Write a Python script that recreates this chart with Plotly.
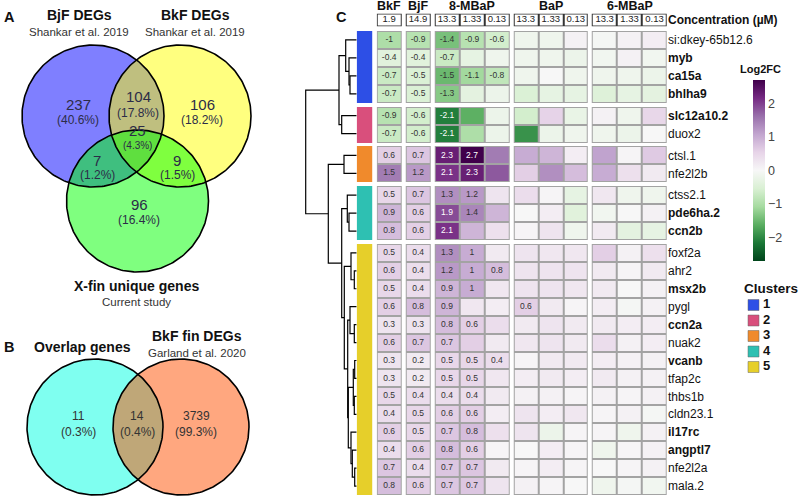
import numpy as np
import plotly.graph_objects as go

W, H = 800, 498
FONT = "Liberation Sans, Arial, Helvetica, sans-serif"

# ---------------- data ----------------
genes = ["si:dkey-65b12.6", "myb", "ca15a", "bhlha9", "slc12a10.2", "duox2",
         "ctsl.1", "nfe2l2b", "ctss2.1", "pde6ha.2", "ccn2b", "foxf2a", "ahr2",
         "msx2b", "pygl", "ccn2a", "nuak2", "vcanb", "tfap2c", "thbs1b",
         "cldn23.1", "il17rc", "angptl7", "nfe2l2a", "mala.2"]
bold_genes = ["myb", "ca15a", "bhlha9", "slc12a10.2", "pde6ha.2", "ccn2b",
              "msx2b", "ccn2a", "vcanb", "il17rc", "angptl7"]
gene_cluster = [1, 1, 1, 1, 2, 2, 3, 3, 4, 4, 4] + [5] * 14
cluster_ids = [1, 2, 3, 4, 5]
cluster_colors = ["#2d4fe6", "#d94f7c", "#f08a2c", "#2ec0b2", "#e6cf2a"]

groups = ["BkF", "BjF", "8-MBaP", "BaP", "6-MBaP"]
group_sizes = [1, 1, 3, 3, 3]
conc_labels = ["1.9", "14.9", "13.3", "1.33", "0.13", "13.3", "1.33", "0.13",
               "13.3", "1.33", "0.13"]

# columns: BkF, BjF, 8M 13.3, 8M 1.33, 8M 0.13, BaP 13.3, 1.33, 0.13, 6M 13.3, 1.33, 0.13
log2fc = [
    [-1.0, -0.9, -1.4, -0.9, -0.6, -0.15, -0.15, 0.1, -0.05, 0.1, 0.15],
    [-0.4, -0.4, -0.7, -0.3, -0.15, -0.15, -0.15, -0.2, -0.1, 0.1, -0.1],
    [-0.7, -0.5, -1.5, -1.1, -0.8, -0.15, 0.0, -0.15, -0.15, -0.15, -0.2],
    [-0.7, -0.5, -1.3, -0.35, -0.2, -0.5, -0.3, -0.3, -0.45, -0.3, -0.35],
    [-0.9, -0.6, -2.1, -1.6, -0.2, -0.6, 0.55, -0.25, 0.1, -0.15, 0.5],
    [-0.7, -0.6, -2.1, -1.0, -0.2, -1.9, -0.2, -0.15, -0.15, -0.2, 0.0],
    [0.6, 0.7, 2.3, 2.7, 1.5, 1.0, 0.9, 0.15, 1.1, 0.05, 0.65],
    [1.5, 1.2, 2.1, 2.3, 1.8, 0.6, 1.3, 0.8, 1.0, 0.35, 0.2],
    [0.5, 0.7, 1.3, 1.2, 0.3, 0.4, 0.05, -0.3, 0.25, -0.15, -0.15],
    [0.9, 0.6, 1.9, 1.4, 0.9, 0.0, 0.15, -0.4, -0.1, 0.0, 0.1],
    [0.8, 0.6, 2.1, 0.9, 0.35, 0.05, 0.3, -0.15, 0.2, -0.35, -0.3],
    [0.5, 0.4, 1.3, 1.0, 0.2, 0.3, 0.25, 0.25, 0.6, 0.1, 0.35],
    [0.6, 0.4, 1.2, 1.0, 0.8, 0.3, 0.3, 0.3, 0.2, 0.05, 0.2],
    [0.5, 0.4, 0.9, 1.0, 0.25, 0.3, 0.3, 0.25, 0.2, 0.0, 0.1],
    [0.6, 0.8, 0.9, 0.25, 0.15, 0.6, 0.2, 0.05, 0.15, -0.05, 0.1],
    [0.3, 0.3, 0.8, 0.6, 0.4, 0.2, 0.3, 0.2, 0.2, 0.15, 0.15],
    [0.6, 0.7, 0.7, 0.6, 0.2, 0.25, 0.3, 0.2, 0.4, 0.1, 0.15],
    [0.3, 0.2, 0.5, 0.5, 0.4, 0.05, 0.2, 0.2, 0.15, 0.1, 0.1],
    [0.3, 0.2, 0.5, 0.5, 0.25, 0.15, 0.2, 0.15, 0.2, 0.1, 0.1],
    [0.5, 0.4, 0.4, 0.4, 0.2, 0.1, 0.1, 0.05, 0.1, 0.05, 0.1],
    [0.4, 0.5, 0.6, 0.6, 0.15, 0.3, 0.15, 0.25, 0.05, 0.1, -0.05],
    [0.6, 0.5, 0.7, 0.8, 0.35, 0.3, -0.2, 0.05, 0.05, -0.15, 0.1],
    [0.4, 0.6, 0.8, 0.6, 0.05, 0.0, 0.15, 0.05, -0.15, 0.05, 0.1],
    [0.7, 0.4, 0.7, 0.7, 0.2, 0.05, 0.15, 0.05, 0.0, 0.05, 0.1],
    [0.8, 0.6, 0.7, 0.7, 0.3, 0.1, 0.05, 0.0, -0.15, -0.05, -0.1],
]
significant = [
    [1, 1, 1, 1, 1, 0, 0, 0, 0, 0, 0],
    [1, 1, 1, 0, 0, 0, 0, 0, 0, 0, 0],
    [1, 1, 1, 1, 1, 0, 0, 0, 0, 0, 0],
    [1, 1, 1, 0, 0, 0, 0, 0, 0, 0, 0],
    [1, 1, 1, 0, 0, 0, 0, 0, 0, 0, 0],
    [1, 1, 1, 0, 0, 0, 0, 0, 0, 0, 0],
    [1, 1, 1, 1, 0, 0, 0, 0, 0, 0, 0],
    [1, 1, 1, 1, 0, 0, 0, 0, 0, 0, 0],
    [1, 1, 1, 1, 0, 0, 0, 0, 0, 0, 0],
    [1, 1, 1, 1, 0, 0, 0, 0, 0, 0, 0],
    [1, 1, 1, 0, 0, 0, 0, 0, 0, 0, 0],
    [1, 1, 1, 1, 0, 0, 0, 0, 0, 0, 0],
    [1, 1, 1, 1, 1, 0, 0, 0, 0, 0, 0],
    [1, 1, 1, 1, 0, 0, 0, 0, 0, 0, 0],
    [1, 1, 1, 0, 0, 1, 0, 0, 0, 0, 0],
    [1, 1, 1, 1, 0, 0, 0, 0, 0, 0, 0],
    [1, 1, 1, 0, 0, 0, 0, 0, 0, 0, 0],
    [1, 1, 1, 1, 1, 0, 0, 0, 0, 0, 0],
    [1, 1, 1, 1, 0, 0, 0, 0, 0, 0, 0],
    [1, 1, 1, 1, 0, 0, 0, 0, 0, 0, 0],
    [1, 1, 1, 1, 0, 0, 0, 0, 0, 0, 0],
    [1, 1, 1, 1, 0, 0, 0, 0, 0, 0, 0],
    [1, 1, 1, 1, 0, 0, 0, 0, 0, 0, 0],
    [1, 1, 1, 1, 0, 0, 0, 0, 0, 0, 0],
    [1, 1, 1, 1, 0, 0, 0, 0, 0, 0, 0],
]

# hierarchical clustering merges: (child a, child b, height)
dendro_merges = [
    ("ca15a", "bhlha9", 6.7), ("myb", "n0", 7.7), ("si:dkey-65b12.6", "n1", 11.0),
    ("slc12a10.2", "duox2", 15.0), ("n2", "n3", 17.7),
    ("ctsl.1", "nfe2l2b", 12.7),
    ("pde6ha.2", "ccn2b", 7.7), ("ctss2.1", "n6", 9.4),
    ("ahr2", "msx2b", 2.4), ("foxf2a", "n8", 5.7),
    ("ccn2a", "nuak2", 2.4), ("pygl", "n10", 6.7),
    ("vcanb", "tfap2c", 2.0), ("thbs1b", "cldn23.1", 2.4), ("n12", "n13", 3.4),
    ("nfe2l2a", "mala.2", 2.0), ("angptl7", "n15", 4.4), ("il17rc", "n16", 5.7),
    ("n14", "n17", 8.4), ("n11", "n18", 9.0), ("n9", "n19", 12.4),
    ("n7", "n20", 15.0), ("n5", "n21", 28.4), ("n4", "n22", 51.0),
]

# Venn diagrams
venn_a_sets = ["BjF DEGs", "BkF DEGs", "X-fin unique genes"]
venn_a_counts = {"BjF": 237, "BjF&BkF": 104, "BkF": 106, "all": 25,
                 "BjF&X": 7, "BkF&X": 9, "X": 96}
venn_b_sets = ["Overlap genes", "BkF fin DEGs"]
venn_b_counts = {"Overlap": 11, "both": 14, "BkF fin": 3739}

# ---------------- geometry helpers ----------------
def px(x):
    return x / W


def py(y):
    return 1 - y / H


COL_GAP = 4 / 24.94
ROW_GAP = 3.9 / 17.93

# x bricks
x_edges = [0.0]
col_brick = []
bi = 0
for g, n in enumerate(group_sizes):
    if g > 0:
        x_edges.append(x_edges[-1] + COL_GAP)
        bi += 1
    for _ in range(n):
        x_edges.append(x_edges[-1] + 1)
        col_brick.append(bi)
        bi += 1
n_xb = bi
x_total = x_edges[-1]
col_centers = [(x_edges[b] + x_edges[b + 1]) / 2 for b in col_brick]

# y bricks
y_edges = [0.0]
row_brick = []
bi = 0
prev = None
for c in gene_cluster:
    if prev is not None and c != prev:
        y_edges.append(y_edges[-1] + ROW_GAP)
        bi += 1
    y_edges.append(y_edges[-1] + 1)
    row_brick.append(bi)
    bi += 1
    prev = c
n_yb = bi
y_total = y_edges[-1]
row_centers = [(y_edges[b] + y_edges[b + 1]) / 2 for b in row_brick]

z = [[None] * n_xb for _ in range(n_yb)]
under = [[None] * n_xb for _ in range(n_yb)]
for r in range(len(genes)):
    for c in range(len(conc_labels)):
        z[row_brick[r]][col_brick[c]] = log2fc[r][c]
        under[row_brick[r]][col_brick[c]] = 1

clus_z = [[None] for _ in range(n_yb)]
for r, c in enumerate(gene_cluster):
    clus_z[row_brick[r]][0] = c

conc_z = [[None] * n_xb]
for c in range(len(conc_labels)):
    conc_z[0][col_brick[c]] = 1

prgn = ["#00441b", "#1b7837", "#5aae61", "#a6dba0", "#d9f0d3", "#f7f7f7",
        "#e7d4e8", "#c2a5cf", "#9970ab", "#762a83", "#40004b"]
cscale = [[i / 10, col] for i, col in enumerate(prgn)]

fig = go.Figure()


def label(text, x, y, size, bold=False, color="#111"):
    fig.add_annotation(x=px(x), y=py(y), xref="paper", yref="paper", showarrow=False,
                       text=f"<b>{text}</b>" if bold else text, xanchor="center",
                       yanchor="middle", font=dict(size=size, color=color, family=FONT))


# ---------------- Venn diagrams (pixel axes x4/y4) ----------------
t = np.linspace(0, 2 * np.pi, 241)


def circle(cx, cy, r):
    return cx + r * np.cos(t), cy + r * np.sin(t)


circ_a = [(93, 116, 71), (180, 116, 71), (137.5, 201, 71)]
fill_a = ["rgba(0,0,255,0.5)", "rgba(255,255,0,0.5)", "rgba(0,255,0,0.5)"]
circ_b = [(95, 427, 68), (181, 427, 68)]
fill_b = ["rgba(0,255,225,0.5)", "rgba(255,80,0,0.5)"]
for (cx, cy, r), f in list(zip(circ_a, fill_a)) + list(zip(circ_b, fill_b)):
    xs, ys = circle(cx, cy, r)
    fig.add_trace(go.Scatter(x=xs, y=ys, mode="lines", fill="toself", fillcolor=f,
                             line=dict(width=0), xaxis="x4", yaxis="y4",
                             hoverinfo="skip", showlegend=False))
for cx, cy, r in circ_a + circ_b:
    xs, ys = circle(cx, cy, r)
    fig.add_trace(go.Scatter(x=xs, y=ys, mode="lines", line=dict(color="black", width=1.6),
                             xaxis="x4", yaxis="y4", hoverinfo="skip", showlegend=False))

tot_a = sum(venn_a_counts.values())
pos_a = {"BjF": (78, 105, 120), "BjF&BkF": (138, 97, 113), "BkF": (202, 105, 120),
         "all": (137, 131, 145), "BjF&X": (97, 160, 175), "BkF&X": (177, 160, 175),
         "X": (139, 204, 220)}
for k, v in venn_a_counts.items():
    x, y1, y2 = pos_a[k]
    small = k == "all"
    label(str(v), x, y1, 15, False, "#2c2c48")
    label(f"({100 * v / tot_a:.1f}%)", x, y2, 10 if small else 12, False, "#2c2c48")

tot_b = sum(venn_b_counts.values())
pos_b = {"Overlap": 78, "both": 137, "BkF fin": 196}
for k, v in venn_b_counts.items():
    x = pos_b[k]
    label(str(v), x, 416, 12, False, "#333")
    label(f"({100 * v / tot_b:.1f}%)", x, 432, 12, False, "#333")

label("A", 9, 17, 14.5, True)
label(venn_a_sets[0], 79, 15, 14, True)
label("Shankar et al. 2019", 79, 32, 11.5, False, "#333")
label(venn_a_sets[1], 195, 15, 14, True)
label("Shankar et al. 2019", 195, 32, 11.5, False, "#333")
label(venn_a_sets[2], 136, 286, 14, True)
label("Current study", 136, 302, 11.5, False, "#333")
label("B", 9, 347, 14.5, True)
label(venn_b_sets[0], 82, 347, 14, True)
label(venn_b_sets[1], 197, 336, 14, True)
label("Garland et al. 2020", 197, 353, 11.5, False, "#333")
label("C", 341, 17, 14.5, True)

# ---------------- heatmap ----------------
fig.add_trace(go.Heatmap(x=x_edges, y=y_edges, z=under,
                         colorscale=[[0, "#a3a3a3"], [1, "#a3a3a3"]], showscale=False,
                         hoverinfo="skip", xaxis="x", yaxis="y"))
fig.add_trace(go.Heatmap(
    x=x_edges, y=y_edges, z=z, colorscale=cscale, zmin=-2.7, zmax=2.7,
    xgap=2, ygap=2, xaxis="x", yaxis="y",
    colorbar=dict(x=px(753), xanchor="left", xref="paper", y=py(80), yanchor="top",
                  yref="paper", len=181, lenmode="pixels", thickness=12,
                  thicknessmode="pixels", xpad=0, ypad=0, outlinewidth=0,
                  tickvals=[-2, -1, 0, 1, 2], ticks="",
                  tickfont=dict(size=12.5, color="#444", family=FONT))))

# cell labels
for white in (False, True):
    xs, ys, ts = [], [], []
    for r in range(len(genes)):
        for c in range(len(conc_labels)):
            if significant[r][c] and ((abs(log2fc[r][c]) >= 1.85) == white):
                xs.append(col_centers[c])
                ys.append(row_centers[r])
                ts.append(f"{log2fc[r][c]:g}")
    fig.add_trace(go.Scatter(x=xs, y=ys, text=ts, mode="text", xaxis="x", yaxis="y",
                             textfont=dict(size=8.5, color="white" if white else "#333",
                                           family=FONT),
                             hoverinfo="skip", showlegend=False, cliponaxis=False))

# concentration row
fig.add_trace(go.Heatmap(x=x_edges, y=[-0.5, 0.5], z=conc_z,
                         colorscale=[[0, "#333"], [1, "#333"]], showscale=False,
                         hoverinfo="skip", xaxis="x", yaxis="y2"))
fig.add_trace(go.Heatmap(x=x_edges, y=[-0.5, 0.5], z=conc_z, xgap=2, ygap=2,
                         colorscale=[[0, "white"], [1, "white"]], showscale=False,
                         hoverinfo="skip", xaxis="x", yaxis="y2"))
fig.add_trace(go.Scatter(x=col_centers, y=[0] * len(col_centers), text=conc_labels,
                         mode="text", xaxis="x", yaxis="y2", hoverinfo="skip",
                         textfont=dict(size=9.5, color="#222", family=FONT),
                         showlegend=False, cliponaxis=False))

# group headers
start = 0
for g, n in zip(groups, group_sizes):
    xc = (x_edges[col_brick[start]] + x_edges[col_brick[start + n - 1] + 1]) / 2
    fig.add_annotation(x=xc, y=py(6), xref="x", yref="paper", showarrow=False,
                       text=f"<b>{g}</b>", xanchor="center", yanchor="middle",
                       font=dict(size=12.5, color="#111", family=FONT))
    start += n

# cluster colour bar
cl_scale = []
for i, col in enumerate(cluster_colors):
    cl_scale += [[i / 5, col], [(i + 1) / 5, col]]
fig.add_trace(go.Heatmap(x=[0, 1], y=y_edges, z=clus_z, colorscale=cl_scale,
                         zmin=0.5, zmax=5.5, showscale=False, hoverinfo="skip",
                         xaxis="x3", yaxis="y"))

# dendrogram
ypos = {g: row_centers[i] for i, g in enumerate(genes)}
hpos = {g: 0.0 for g in genes}
dx, dy = [], []
for k, (a, b, h) in enumerate(dendro_merges):
    ya, yb = ypos[a], ypos[b]
    dx += [hpos[a], h, h, hpos[b], None]
    dy += [ya, ya, yb, yb, None]
    ypos[f"n{k}"] = (ya + yb) / 2
    hpos[f"n{k}"] = h
fig.add_trace(go.Scatter(x=dx, y=dy, mode="lines", line=dict(color="black", width=1.2),
                         xaxis="x2", yaxis="y", hoverinfo="skip", showlegend=False,
                         cliponaxis=False))

# colour bar title
label("Log2FC", 760, 69, 11, True)

# cluster legend
label("Clusters", 771, 288, 13.5, True)
leg_y = [305 + 15.5 * i for i in range(len(cluster_ids))]
fig.add_trace(go.Scatter(x=[753.5] * len(cluster_ids), y=leg_y, mode="markers",
                         marker=dict(symbol="square", size=11, color=cluster_colors,
                                     line=dict(color="#666", width=0.5)),
                         xaxis="x4", yaxis="y4", hoverinfo="skip", showlegend=False,
                         cliponaxis=False))
fig.add_trace(go.Scatter(x=[763] * len(cluster_ids), y=leg_y,
                         text=[f"<b>{c}</b>" for c in cluster_ids], mode="text",
                         textposition="middle right",
                         textfont=dict(size=13, color="#111", family=FONT),
                         xaxis="x4", yaxis="y4", hoverinfo="skip", showlegend=False,
                         cliponaxis=False))

ticktext = [f"<b>{g}</b>" if g in bold_genes else g for g in genes]

fig.update_layout(
    width=W, height=H, margin=dict(l=0, r=0, t=0, b=0),
    paper_bgcolor="white", plot_bgcolor="rgba(0,0,0,0)", showlegend=False,
    font=dict(family=FONT),
    xaxis=dict(domain=[px(376.7), px(667)], range=[0, x_total], visible=False,
               fixedrange=True),
    yaxis=dict(domain=[py(495), py(31)], range=[y_total, 0], side="right", anchor="x",
               tickvals=row_centers, ticktext=ticktext, ticks="", showgrid=False,
               zeroline=False, showline=False,
               tickfont=dict(size=12, color="#111", family=FONT)),
    yaxis2=dict(domain=[py(26.5), py(13.5)], range=[-0.5, 0.5], side="right",
                anchor="x", tickvals=[0], ticktext=["<b>Concentration (µM)</b>"],
                ticks="", showgrid=False, zeroline=False, showline=False,
                tickfont=dict(size=12, color="#111", family=FONT)),
    xaxis2=dict(domain=[px(305), px(356.7)], range=[51.7, 0], visible=False,
                anchor="y"),
    xaxis3=dict(domain=[px(356.7), px(372.3)], range=[0, 1], visible=False,
                anchor="y"),
    xaxis4=dict(domain=[0, 1], range=[0, W], visible=False, anchor="y4"),
    yaxis4=dict(domain=[0, 1], range=[H, 0], visible=False, anchor="x4"),
)

fig.write_html("out.html")
